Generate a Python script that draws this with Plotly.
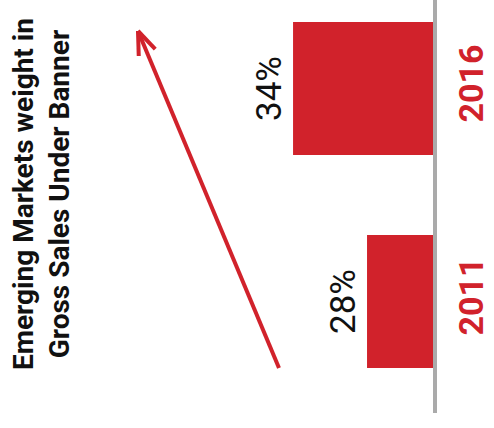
import math
import plotly.graph_objects as go

years = ["2011", "2016"]
weights = [28, 34]
labels = ["28%", "34%"]
title_lines = ["Emerging Markets weight in", "Gross Sales Under Banner"]

RED = "#D1222B"
W, H = 494, 428
L, R, T, B = 0, 61, 0, 15
plot_w = W - L - R
plot_h = H - T - B
# axis scale: px per percentage point
px_per = 12.33
v_right = 22.65
v_left = v_right + plot_w / px_per

fig = go.Figure()
fig.add_trace(go.Bar(
    y=years, x=weights, orientation="h",
    marker=dict(color=RED, line=dict(width=0)),
    width=0.624,
    text=labels, textposition="outside", textangle=-90,
    textfont=dict(family="Roboto", size=35, color="#111111"),
    cliponaxis=False,
))

# decorative trend arrow, positioned in paper space (converted from pixels)
def px_to_paper(px, py):
    return px / plot_w, 1 - py / plot_h

tip = (138, 31)
tail = (279, 368)
ang = math.atan2(tail[1] - tip[1], tail[0] - tip[0])
arm_len = 25
segments = [(tip, tail)]
for d in (-21, 21):
    a = ang + math.radians(d)
    segments.append((tip, (tip[0] + arm_len * math.cos(a), tip[1] + arm_len * math.sin(a))))
shapes = []
for (p0, p1) in segments:
    x0, y0 = px_to_paper(*p0)
    x1, y1 = px_to_paper(*p1)
    shapes.append(dict(type="line", xref="paper", yref="paper",
                       x0=x0, y0=y0, x1=x1, y1=y1,
                       line=dict(color=RED, width=4)))

fig.update_layout(
    width=W, height=H,
    margin=dict(l=L, r=R, t=T, b=B, autoexpand=False),
    paper_bgcolor="white", plot_bgcolor="white",
    showlegend=False,
    xaxis=dict(range=[v_left, v_right], visible=False, fixedrange=True),
    yaxis=dict(
        type="category", categoryorder="array", categoryarray=years,
        range=[-0.5235, 1.4155], side="right",
        showline=True, linecolor="#AAAAAA", linewidth=4,
        showgrid=False, zeroline=False, fixedrange=True,
        ticks="", tickangle=-90, ticklabelstandoff=5,
        tickfont=dict(family="Roboto", size=34, color=RED, weight="bold"),
    ),
    shapes=shapes,
    annotations=[
        dict(
            text="<br>".join(title_lines), xref="paper", yref="paper",
            x=41 / plot_w, y=1 - 194 / plot_h, showarrow=False,
            textangle=-90, xanchor="center", yanchor="middle",
            font=dict(family="Roboto", size=28, color="#111111", weight="bold"),
        ),
    ],
)

fig.write_html("out.html", config={"displayModeBar": False},
               post_script="document.body.style.margin='0';")
